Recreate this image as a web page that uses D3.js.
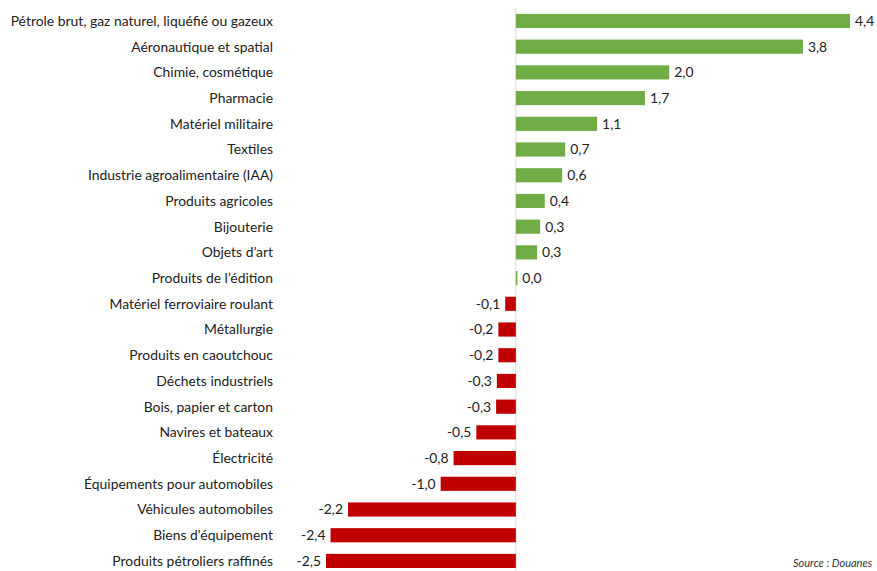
<!DOCTYPE html>
<html>
<head>
<meta charset="utf-8">
<script src="https://cdn.jsdelivr.net/npm/d3@7"></script>
<style>
  html, body { margin: 0; padding: 0; background: #fff; overflow: hidden; }
  svg { display: block; }
</style>
</head>
<body>
<svg id="chart" width="877" height="571"></svg>
<script>
const categories = [
  "Pétrole brut, gaz naturel, liquéfié ou gazeux",
  "Aéronautique et spatial",
  "Chimie, cosmétique",
  "Pharmacie",
  "Matériel militaire",
  "Textiles",
  "Industrie agroalimentaire (IAA)",
  "Produits agricoles",
  "Bijouterie",
  "Objets d’art",
  "Produits de l’édition",
  "Matériel ferroviaire roulant",
  "Métallurgie",
  "Produits en caoutchouc",
  "Déchets industriels",
  "Bois, papier et carton",
  "Navires et bateaux",
  "Électricité",
  "Équipements pour automobiles",
  "Véhicules automobiles",
  "Biens d'équipement",
  "Produits pétroliers raffinés"
];
const values = [4.40, 3.78, 2.02, 1.70, 1.07, 0.65, 0.61, 0.38, 0.32, 0.28, 0.02,
  -0.14, -0.23, -0.23, -0.25, -0.26, -0.52, -0.82, -0.99, -2.21, -2.44, -2.50];
const valueLabels = ["4,4","3,8","2,0","1,7","1,1","0,7","0,6","0,4","0,3","0,3","0,0",
  "-0,1","-0,2","-0,2","-0,3","-0,3","-0,5","-0,8","-1,0","-2,2","-2,4","-2,5"];
const sourceText = "Source : Douanes";

const svg = d3.select("#chart");
const x = d3.scaleLinear().domain([-2.5, 4.4]).range([326, 850]);
const y = d3.scaleBand().domain(categories).range([8.1, 573.8]).paddingInner(0.45).paddingOuter(0.225);
const font = "Lato, 'Open Sans', sans-serif";

// zero axis
svg.append("line")
  .attr("x1", x(0)).attr("x2", x(0))
  .attr("y1", y.range()[0]).attr("y2", 571)
  .attr("stroke", "#d9d9d9").attr("stroke-width", 1);

const rows = svg.append("g").selectAll("g").data(categories).join("g");

rows.append("rect")
  .attr("x", (d, i) => Math.min(x(0), x(values[i])))
  .attr("width", (d, i) => Math.abs(x(values[i]) - x(0)))
  .attr("y", d => y(d))
  .attr("height", y.bandwidth())
  .attr("fill", (d, i) => values[i] >= 0 ? "#70AD47" : "#C00000");

rows.append("text")
  .attr("x", 273)
  .attr("y", d => y(d) + y.bandwidth() / 2)
  .attr("dy", "0.35em")
  .attr("text-anchor", "end")
  .attr("font-family", font)
  .attr("font-size", 13.9)
  .attr("fill", "#222")
  .text(d => d);

rows.append("text")
  .attr("x", (d, i) => values[i] >= 0 ? x(values[i]) + 5 : x(values[i]) - 5)
  .attr("y", d => y(d) + y.bandwidth() / 2)
  .attr("dy", "0.35em")
  .attr("text-anchor", (d, i) => values[i] >= 0 ? "start" : "end")
  .attr("font-family", font)
  .attr("font-size", 13.9)
  .attr("fill", "#222")
  .text((d, i) => valueLabels[i]);

svg.append("text")
  .attr("x", 793).attr("y", 567)
  .attr("font-family", font)
  .attr("font-size", 11)
  .attr("font-style", "italic")
  .attr("fill", "#333")
  .text(sourceText);
</script>
</body>
</html>
